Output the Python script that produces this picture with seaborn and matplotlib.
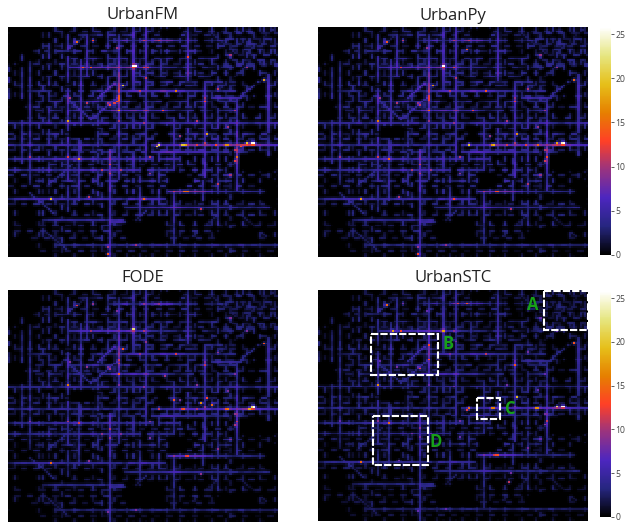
import numpy as np
import matplotlib
matplotlib.use("Agg")
import matplotlib.pyplot as plt
from matplotlib.patches import Rectangle
import seaborn as sns

W, H = 625, 523
titles = ["UrbanFM", "UrbanPy", "FODE", "UrbanSTC"]
GRID = 128
VMAX = 25.8
cbar_ticks = [0, 5, 10, 15, 20, 25]

# Road flow readings: (row, col, direction, levels); each level covers 3 cells
main_roads = [
 (4,30,"h","0302405034020304050203"),
 (7,48,"h","3584396a89534403252"),
 (13,5,"h","00203043240305230402030420352"),
 (17,30,"h","403520435023042503204350"),
 (22,29,"h","6786979a8a6875354253042034"),
 (27,15,"h","030402350403240350240352043"),
 (30,60,"h","5040350423053503"),
 (35,0,"h","000234300304036034578656976755432345"),
 (41,10,"h","0304503425734036204350234035204350"),
 (46,10,"h","030430352403595797a56742350420345"),
 (53,0,"h","4354546345655456345465435654564534565435456"),
 (59,0,"h","30402035030420350240350304203520304205305"),
 (65,0,"h","5356434565456435465445645678998978a9acb9877"),
 (69,30,"h","0304035034056578665654335043"),
 (73,0,"h","3545645675765646554635404650"),
 (79,0,"h","4534546345465745654650635403050403"),
 (85,10,"h","030403503040350402350340306020340"),
 (91,76,"h","8989a97454345434"),
 (95,0,"h","3565666564546565453758665"),
 (100,55,"h","45456567865645454534345"),
 (107,16,"h","3454544545345"),
 (113,0,"h","0203030204020304020302030203040302030"),
 (121,22,"h","3334343353435434543343434534353433343"),
 (10,0,"v","00004050340"),
 (10,6,"v","0340343435345343453435000"),
 (10,10,"v","00034354354654536453545343"),
 (0,19,"v","03043504035043053404350403503020"),
 (4,28,"v","546065464057857465075465456045434"),
 (18,34,"v","5654754654655403503"),
 (4,37,"v","56465745"),
 (55,33,"v","45454534546545"),
 (40,42,"v","0403504350430354050"),
 (68,48,"v","89878678565657565656"),
 (0,47,"v","043504350453"),
 (4,52,"v","4575687a9bc9a86645755454565"),
 (0,59,"v","5746767a7654"),
 (0,65,"v","6756765845675465765456746"),
 (45,59,"v","0345034046530405"),
 (60,71,"v","5404503540635040"),
 (83,62,"v","404565404050"),
 (0,72,"v","3040304530"),
 (82,78,"v","0304565453434"),
 (50,78,"v","4546534545"),
 (0,85,"v","4675676786"),
 (35,85,"v","34504506354"),
 (65,85,"v","0304"),
 (30,93,"v","567875756554565767"),
 (70,92,"v","0404053450"),
 (0,99,"v","0304030403050304356053546053454043435"),
 (40,108,"v","465475867a8976456"),
 (5,113,"v","030403040303"),
 (26,123,"v","56767665565"),
 (60,123,"v","3435040304"),
 (0,116,"v","0303040403"),
]
minor_roads = [
 (2,20,"h","03020304030203040302030403020304"),
 (10,13,"h","0302040302030402030403050302040302030403"),
 (20,0,"h","0000302040302030402030403020304020304030204"),
 (25,60,"h","304030204030402030403"),
 (32,0,"h","0203040302040302043020403020430204030204030"),
 (38,14,"h","30204030403020403040302040304020304030"),
 (44,0,"h","0030403020304030204030402030403020403020403"),
 (50,0,"h","0402030402030403020304020304030204030204030"),
 (56,42,"h","3040302040304020304030"),
 (62,0,"h","3020403020304030204030402030403050402030404"),
 (68,0,"h","2030402030402040302040203040305040304030200"),
 (76,20,"h","403020403040302030405030204030405020"),
 (82,0,"h","3040203040302040304020304030204030504030200"),
 (88,0,"h","2030402030403020304020304030504030204020000"),
 (98,0,"h","2030403020304020304030204030203040302040302"),
 (104,30,"h","20304020304030204020304020304020"),
 (110,0,"h","0203020302030203020304030203020302030203020"),
 (117,8,"h","020302030203020302030203020302030203020"),
 (124,0,"h","0102020102030201020302010203020102030201020"),
 (0,3,"v","000020302030203020403020304020302030203"),
 (12,14,"v","30203040302030402030403020304030203020"),
 (0,16,"v","0203040302040302040300203040302030402030"),
 (0,22,"v","3040302040302040302030403020304030203020302"),
 (0,25,"v","0203040302040302030403020403020304020304020"),
 (0,31,"v","3050403020403020304030204030203040302020302"),
 (0,40,"v","3040302040304020304030204030504030204020302"),
 (20,44,"v","403020403040203040302040304020304020"),
 (0,50,"v","3040203040302040304020304030204030204030202"),
 (0,56,"v","2030402030403020304020304030204030203020302"),
 (0,62,"v","3040302040304020304030204030504030203020302"),
 (0,68,"v","2030403020304020304030204030203040302030202"),
 (0,75,"v","3020403020304030204030402030403020403020302"),
 (0,81,"v","2040302030402030403020304020304030204020302"),
 (0,88,"v","3020403040203040302040304020304020304020302"),
 (0,96,"v","4030204030403020304030204030402030403020202"),
 (0,103,"v","3040203040302040304020304030203040302020302"),
 (0,105,"v","0302040302030402030403020304020304020302030"),
 (0,111,"v","4030204030204030402030402030403020304020202"),
 (0,119,"v","3020403040203040302030403020304020302030202"),
 (0,126,"v","2030402030403020304020304030204020302030200"),
]
upper_right_roads = [
 (3,102,"h","304030203"),
 (6,104,"h","40302040"),
 (9,102,"h","203040302"),
 (12,106,"h","3040302"),
 (15,103,"h","402030403"),
 (18,106,"h","3020403"),
 (21,102,"h","304030204"),
 (0,108,"v","3040203"),
 (0,114,"v","2040302"),
 (0,121,"v","4030204"),
 (0,124,"v","3020403"),
]
curved_roads = [
 (0,126,"L","3203"),
 (22,112,"L","3203"),
 (30,118,"L","565"),
 (39,96,"h","56565"),
 (4,36,"L","345"),
 (3,96,"d","3203"),
 (40,28,"d","5656"),
 (50,40,"u","5767"),
 (39,42,"u","89a"),
 (105,98,"L","3203"),
 (105,111,"d","3203"),
 (108,48,"h","4545"),
 (107,60,"u","35"),
 (92,10,"d","4545"),
 (112,16,"d","3434"),
 (76,30,"L","4545"),
]
roads = main_roads + minor_roads + upper_right_roads + curved_roads

# Regions without roads: (first row, last row, first col, last col)
empty_blocks = [
 (0,15,0,12),(15,20,0,5),(40,52,0,8),(55,62,29,41),(55,64,71,76),
 (81,89,76,85),(31,44,117,122),(25,32,112,118),(1,6,72,82),
 (100,112,6,12),(118,128,0,14),(108,120,56,75),(72,80,110,128),
 (90,100,122,128),(85,92,123,128),(64,72,66,68),(112,121,100,118),
]

# Warm cells shared by all panels: (row, col, value)
warm_cells = [(79,44,11),(76,48,12),(81,48,11),(79,53,10),(81,67,10),(35,62,11),(22,64,12),(28,65,11),
 (7,64,11),(7,71,11),(11,51,10),(7,40,11),(39,29,10),(42,37,11),(42,47,10),(39,93,10),(34,99,11),
 (46,107,10),(22,113,10),(15,105,10),(65,89,12),(64,93,11),(68,107,11),(74,107,12),(82,105,10),
 (87,99,11),(91,78,11),(101,91,11),(94,38,11),(72,10,10),(72,28,12),(121,60,10),(122,47,10),
 (52,52,10),(53,64,10),(52,89,11),(55,104,10),(60,81,10),(72,67,11)]

# Hot cells per panel: (row, col, value)
spots_fm = [(21,59,26),(21,60,26),(64,116,26),(64,115,25),(64,113,20),(65,104,17),(65,103,17),
 (65,82,20),(65,83,20),(65,84,18),(65,71,22),(66,70,20),(32,54,20),(46,52,18),(52,28,18),(73,33,18),
 (91,84,15),(91,85,15),(91,83,15),(29,121,18),(35,79,16),(46,73,13),(8,32,15),(72,108,15),(41,93,13),
 (59,94,18),(95,20,20),(126,47,14),(16,85,13),(95,64,15),(22,39,14),(22,35,14),(38,52,14),(39,52,14),
 (40,52,14),(41,51,14),(42,50,12),(43,48,13),(65,98,13),(66,110,14),(7,40,13),(22,66,12)]
spots_py = [(21,59,26),(64,116,26),(64,115,24),(64,113,18),(65,104,15),(65,82,17),(65,83,19),
 (65,71,20),(32,54,17),(46,52,15),(52,28,16),(73,33,15),(91,84,13),(91,85,14),(29,121,15),(35,79,14),
 (46,73,12),(8,32,14),(72,108,13),(41,93,12),(59,94,17),(95,20,18),(126,47,13),(95,64,13),(22,39,12),
 (38,52,12),(39,52,12),(40,52,12),(43,48,11),(65,98,12),(12,70,14)]
spots_fode = [(64,116,26),(64,115,22),(65,114,18),(65,104,16),(65,103,14),(65,82,12),(65,83,14),
 (65,71,11),(60,78,14),(32,54,14),(46,52,14),(52,28,16),(73,33,12),(91,84,12),(91,85,13),(29,121,14),
 (35,79,12),(8,32,12),(72,108,11),(41,93,11),(59,94,13),(95,20,15),(62,91,17),(63,96,15),(22,39,10),
 (38,52,11),(40,52,11),(43,48,10),(47,74,10),(21,59,22)]
spots_stc = [(64,116,26),(64,115,25),(64,113,22),(65,104,17),(65,103,17),(65,82,16),(65,83,16),
 (65,71,15),(66,70,12),(30,52,13),(38,52,13),(52,28,17),(73,33,15),(91,84,13),(91,85,14),(91,83,11),
 (29,121,14),(35,79,11),(8,32,15),(72,108,11),(41,93,14),(59,94,19),(95,20,15),(22,59,18),(22,39,13),
 (22,35,18),(43,48,12),(7,70,14),(7,66,12),(106,90,11)]
spot_sets = [spots_fm, spots_py, spots_fode, spots_stc]
panel_gains = [1.25, 1.15, 1.0, 0.92]
warm_gains = [1.0, 0.95, 0.85, 0.75]

boxes = [(107.3,0.8,20.7,21.5),(25,24.5,31.7,22.5),(75.5,60,10.7,11.7),(26.3,70,25.8,27)]
box_labels = [("A",102,8.5),("B",61.5,30),("C",91,66),("D",56,84.5)]

STEP = {"h":(0,1),"v":(1,0),"d":(1,1),"u":(-1,1),"L":(1,-1)}
# The reference is a soft, resampled image: each cell bleeds into its neighbours
BLUR = {(0,0):0.5,(0,1):0.1,(0,-1):0.1,(1,0):0.1,(-1,0):0.1,(1,1):0.025,(1,-1):0.025,(-1,1):0.025,(-1,-1):0.025}

def panel_matrix(gain, warm_gain, spots):
    m = np.zeros((GRID, GRID))
    for r, c, kind, levels in roads:
        dr, dc = STEP[kind]
        for i, ch in enumerate(levels):
            for k in range(3):
                rr, cc = r + dr*(3*i+k), c + dc*(3*i+k)
                if 0 <= rr < GRID and 0 <= cc < GRID:
                    m[rr, cc] = max(m[rr, cc], int(ch, 36)*gain)
    for r0, r1, c0, c1 in empty_blocks:
        m[r0:r1, c0:c1] = 0
    hot = [(r, c, v*warm_gain) for r, c, v in warm_cells] + list(spots)
    for r, c, v in hot:
        m[r, c] = v*1.25
    out = sum(w*np.roll(m, shift, axis=(0, 1)) for shift, w in BLUR.items())
    for r, c, v in hot:
        out[r, c] = v
    return out

sns.set_theme(style="white")
plt.rcParams["font.family"] = ["Open Sans", "DejaVu Sans"]
fig = plt.figure(figsize=(W/100, H/100), dpi=100)

def rect(x0, y0, x1, y1):
    return [x0/W, 1-y1/H, (x1-x0)/W, (y1-y0)/H]

panel_pos = [(8,27,278,257),(318,27,588,257),(8,290,278,522),(318,290,588,521)]
cbar_pos = {1:(600,27,611,255), 3:(600,291,611,517)}
title_y = [19,20,282,282]

for i, name in enumerate(titles):
    ax = fig.add_axes(rect(*panel_pos[i]))
    cax = fig.add_axes(rect(*cbar_pos[i])) if i in cbar_pos else None
    sns.heatmap(panel_matrix(panel_gains[i], warm_gains[i], spot_sets[i]), ax=ax, cmap="CMRmap", vmin=0, vmax=VMAX,
                cbar=cax is not None, cbar_ax=cax, xticklabels=False, yticklabels=False,
                cbar_kws={"ticks": cbar_ticks} if cax is not None else None)
    fig.text((panel_pos[i][0]+panel_pos[i][2])/2/W, 1-title_y[i]/H, name,
             ha="center", va="baseline", fontsize=12, color="#222222")
    if cax is not None:
        cax.tick_params(length=2, width=0.6, labelsize=6.2, labelcolor="#444444", color="#444444", pad=1)
        for s in cax.spines.values():
            s.set_visible(False)

for (x, y, w, h) in boxes:
    ax.add_patch(Rectangle((x, y), w, h, fill=False, ec="white", lw=1.5, ls=(0, (3.5, 1))))
for t, x, y in box_labels:
    ax.text(x, y, t, color="#18a018", fontsize=12, fontweight="bold", ha="center", va="center")

fig.savefig("out.png", dpi=100)
